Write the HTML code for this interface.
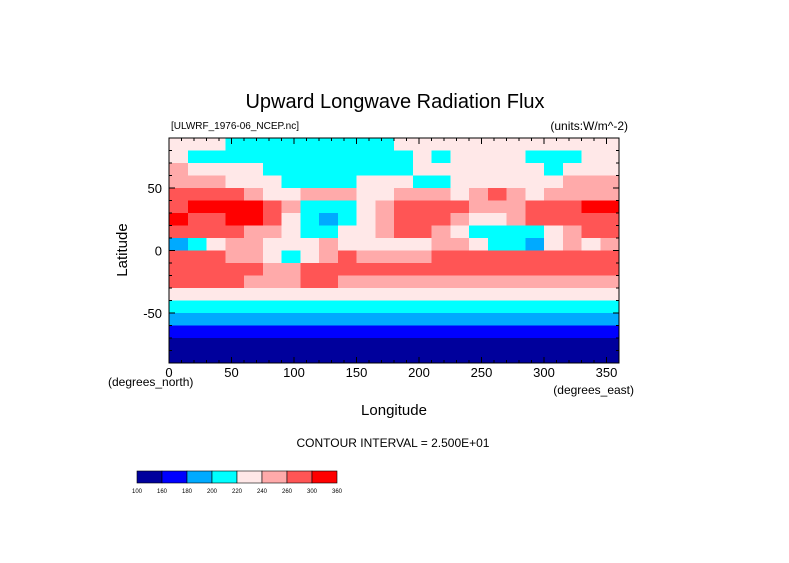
<!DOCTYPE html>
<html><head><meta charset="utf-8"><style>
body{margin:0;background:#fff;width:789px;height:558px;overflow:hidden}
svg text{font-family:"Liberation Sans",sans-serif;fill:#000}
</style></head><body>
<svg id="s" width="789" height="558" xmlns="http://www.w3.org/2000/svg">
<text x="395" y="108" font-size="20" text-anchor="middle">Upward Longwave Radiation Flux</text>
<text x="171" y="129" font-size="10">[ULWRF_1976-06_NCEP.nc]</text>
<text x="628" y="130" font-size="12" text-anchor="end">(units:W/m^-2)</text>
<g id="cells"></g>
<g id="ticks"></g>
<rect x="169" y="138" width="450" height="225" fill="none" stroke="#000" stroke-width="1"/>
<g id="labels" font-size="13"></g>
<text transform="translate(127,250) rotate(-90)" font-size="15" text-anchor="middle">Latitude</text>
<text x="108" y="386" font-size="12">(degrees_north)</text>
<text x="634" y="394" font-size="12" text-anchor="end">(degrees_east)</text>
<text x="394" y="415" font-size="15" text-anchor="middle">Longitude</text>
<text x="393" y="447" font-size="12" text-anchor="middle">CONTOUR INTERVAL = 2.500E+01</text>
<g id="cbar"></g>
</svg>
<script>
const lons=[7.5,22.5,37.5,52.5,67.5,82.5,97.5,112.5,127.5,142.5,157.5,172.5,187.5,202.5,217.5,232.5,247.5,262.5,277.5,292.5,307.5,322.5,337.5,352.5];
const lats=[85,75,65,55,45,35,25,15,5,-5,-15,-25,-35,-45,-55,-65,-75,-85];
const values=[
[230,230,230,215,215,215,215,215,215,215,215,215,225,230,230,230,230,230,225,225,230,230,230,230],
[230,215,210,210,210,210,210,210,210,210,210,210,215,225,215,230,230,230,230,215,210,215,230,230],
[240,235,230,225,225,215,210,210,210,210,210,210,215,225,230,225,230,230,230,225,215,225,230,235],
[250,245,240,235,230,225,215,210,210,215,225,235,230,215,210,225,230,230,230,230,235,240,240,245],
[270,270,270,260,250,235,225,240,250,245,235,230,245,250,245,235,240,260,250,235,240,245,250,250],
[290,305,305,305,310,280,240,215,200,215,235,250,265,270,275,270,255,240,250,260,270,280,300,310],
[300,295,290,300,305,270,235,200,195,215,230,245,265,275,270,240,225,230,245,265,275,270,280,290],
[270,270,265,260,255,240,230,205,215,225,235,245,260,265,250,230,215,210,210,205,225,240,260,265],
[190,200,230,255,240,235,225,225,240,235,230,230,230,230,240,240,235,210,205,195,230,250,235,240],
[270,270,265,250,240,220,215,230,255,260,255,250,240,250,260,265,265,270,275,270,265,265,260,260],
[275,270,270,265,260,255,250,260,275,280,275,265,265,265,270,275,275,275,270,265,265,265,265,265],
[260,260,260,260,258,255,255,260,260,258,255,250,250,250,250,255,255,255,250,250,250,248,248,250],
[235,235,235,235,235,235,235,235,235,230,230,230,230,228,228,228,230,230,228,225,225,225,228,230],
[210,210,212,212,212,212,212,210,210,210,210,210,210,210,210,210,210,210,208,205,205,205,205,205],
[195,198,198,198,198,198,198,195,195,195,195,195,195,195,195,195,195,195,190,190,190,190,190,190],
[170,165,165,165,170,172,172,170,170,170,170,170,170,170,170,165,165,165,165,165,165,165,165,165],
[140,140,140,140,140,140,140,140,140,140,140,140,140,140,140,140,140,140,140,140,140,140,140,140],
[130,130,130,130,130,130,130,130,130,130,130,130,130,130,130,130,130,130,130,130,130,130,130,130]];
const levels=[100,160,180,200,220,240,260,300,360];
const colors=["#00009c","#0000ff","#00aaff","#00ffff","#ffe8e8","#ffaaaa","#ff5555","#ff0000"];
const xTicks=[0,50,100,150,200,250,300,350];
const yTicks=[50,0,-50];
const X=l=>169+l*450/360, Y=a=>250.5-a*225/180;
const NS="http://www.w3.org/2000/svg";
function mk(t,a,p){const e=document.createElementNS(NS,t);for(const k in a)e.setAttribute(k,a[k]);p.appendChild(e);return e;}
function col(v){for(let i=levels.length-2;i>=0;i--)if(v>=levels[i])return colors[i];return colors[0];}
const g=document.getElementById('cells');
lats.forEach((la,r)=>lons.forEach((lo,c)=>{
 const e=mk('rect',{x:X(lo-7.5),y:Y(la+5),width:X(lo+7.5)-X(lo-7.5)+0.5,height:Y(la-5)-Y(la+5)+0.5,fill:col(values[r][c]),'shape-rendering':'crispEdges'},g);
 
 
}));
const tk=document.getElementById('ticks');
for(let l=0;l<=360;l+=10){mk('line',{x1:X(l),x2:X(l),y1:138,y2:l%50?141:144,stroke:'#000'},tk);mk('line',{x1:X(l),x2:X(l),y1:363,y2:l%50?360:357,stroke:'#000'},tk);}
for(let a=-90;a<=90;a+=10){mk('line',{x1:169,x2:a%50?172:175,y1:Y(a),y2:Y(a),stroke:'#000'},tk);mk('line',{x1:619,x2:a%50?616:613,y1:Y(a),y2:Y(a),stroke:'#000'},tk);}
const lb=document.getElementById('labels');
xTicks.forEach(v=>{const t=mk('text',{x:X(v),y:377,'text-anchor':'middle'},lb);t.textContent=v;
 
 });
yTicks.forEach(v=>{const t=mk('text',{x:162,y:Y(v)+5,'text-anchor':'end'},lb);t.textContent=v;
 
 });
const cb=document.getElementById('cbar');const w=25;
colors.forEach((c,i)=>{const r=mk('rect',{x:137+i*w,y:471,width:w,height:12,fill:c,stroke:'#000','stroke-width':0.6},cb);
 
 });
levels.forEach((v,i)=>{const t=mk('text',{x:137+i*w,y:493,'text-anchor':'middle','font-size':6},cb);t.textContent=v;
 
 });
</script>
</body></html>
